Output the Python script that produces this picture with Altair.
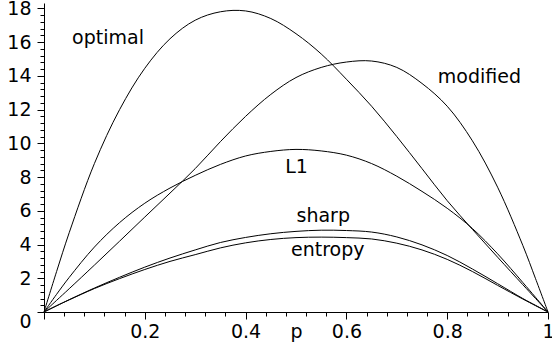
import altair as alt
import pandas as pd

# ---- data ----
p_vals = [0, 0.025, 0.05, 0.1, 0.15, 0.2, 0.25, 0.3, 0.35, 0.4, 0.45, 0.5,
          0.55, 0.6, 0.65, 0.7, 0.75, 0.8, 0.85, 0.9, 0.95, 0.975, 1]
optimal = [0, 2.4, 4.7, 8.8, 12.0, 14.45, 16.2, 17.3, 17.8, 17.85, 17.4, 16.5,
           15.3, 13.8, 12.2, 10.4, 8.5, 6.6, 4.9, 3.25, 1.62, 0.81, 0]
modified = [0, 0.69, 1.38, 2.78, 4.2, 5.63, 7.05, 8.5, 10.1, 11.6, 12.9, 13.9,
            14.5, 14.82, 14.88, 14.5, 13.55, 12.2, 10.15, 7.4, 3.95, 2.0, 0]
l1 = [0, 1.05, 2.05, 3.85, 5.3, 6.45, 7.35, 8.1, 8.75, 9.25, 9.52, 9.64,
      9.55, 9.3, 8.8, 8.05, 7.15, 6.15, 4.95, 3.45, 1.75, 0.88, 0]
sharp = [0, 0.37, 0.73, 1.42, 2.06, 2.66, 3.2, 3.68, 4.12, 4.42, 4.64, 4.78,
         4.85, 4.83, 4.74, 4.45, 3.98, 3.35, 2.55, 1.68, 0.8, 0.4, 0]
entropy = [0, 0.37, 0.72, 1.39, 1.98, 2.52, 3.0, 3.4, 3.8, 4.1, 4.3, 4.41,
           4.44, 4.41, 4.33, 4.08, 3.68, 3.12, 2.4, 1.58, 0.77, 0.38, 0]

series_names = ["optimal", "modified", "L1", "sharp", "entropy"]
series_vals = [optimal, modified, l1, sharp, entropy]

label_names = ["optimal", "modified", "L1", "sharp", "entropy"]
label_p = [0.127, 0.864, 0.501, 0.554, 0.563]
label_v = [15.89, 13.56, 8.22, 5.35, 3.32]

x_ticks = [round(i * 0.04, 2) for i in range(26)]
y_ticks = [round(i * 0.4, 1) for i in range(46)]

rows = []
for name, vals in zip(series_names, series_vals):
    for p, v in zip(p_vals, vals):
        rows.append({"p": p, "v": v, "curve": name})
df = pd.DataFrame(rows)
lab = pd.DataFrame({"p": label_p, "v": label_v, "text": label_names})

FONT = "DejaVu Sans"
FS = 19

x_major = "abs(datum.value*5 - round(datum.value*5)) < 0.001"
y_major = "abs(datum.value/2 - round(datum.value/2)) < 0.001"

xscale = alt.Scale(domain=[0, 1], nice=False, zero=False)
yscale = alt.Scale(domain=[0, 18.32], nice=False)

xaxis = alt.Axis(
    values=x_ticks,
    tickCount=200,
    labelExpr=f"({x_major}) && datum.value > 0.001 ? format(datum.value, '.1~f') : ''",
    tickSize={"condition": {"test": x_major, "value": 7}, "value": 4},
    labelPadding=3,
    labelFont=FONT, labelFontSize=FS, labelColor="black",
    labelOverlap=False, labelFlush=False,
    domainColor="black", tickColor="black", domainWidth=1, tickWidth=1,
    grid=False,
    title="p", titleFont=FONT, titleFontSize=FS, titleFontWeight="normal",
    titleColor="black", titleBaseline="alphabetic", titleY=25,
)
yaxis = alt.Axis(
    values=y_ticks,
    tickCount=200,
    labelExpr=f"({y_major}) ? format(datum.value, 'd') : ''",
    tickSize={"condition": {"test": y_major, "value": 7}, "value": 4},
    labelPadding=6,
    labelBaseline={"condition": {"test": "datum.value < 0.01", "value": "top"}, "value": "middle"},
    labelFont=FONT, labelFontSize=FS, labelColor="black",
    labelOverlap=False, labelFlush=False,
    domainColor="black", tickColor="black", domainWidth=1, tickWidth=1,
    grid=False, title=None,
)

lines = alt.Chart(df).mark_line(color="black", strokeWidth=1, interpolate="catmull-rom").encode(
    x=alt.X("p:Q", scale=xscale, axis=xaxis),
    y=alt.Y("v:Q", scale=yscale, axis=yaxis),
    detail="curve:N",
)

texts = alt.Chart(lab).mark_text(
    font=FONT, fontSize=FS, color="black", align="center", baseline="alphabetic"
).encode(
    x=alt.X("p:Q", scale=xscale),
    y=alt.Y("v:Q", scale=yscale),
    text="text:N",
)

chart = alt.layer(lines, texts).properties(
    width=504, height=309,
    autosize=alt.AutoSizeParams(type="none"),
    padding={"left": 44, "top": 3, "right": 4, "bottom": 35},
    background="white",
).configure_view(stroke=None)

chart.save("out.html", embed_options={"renderer": "svg", "actions": False})
